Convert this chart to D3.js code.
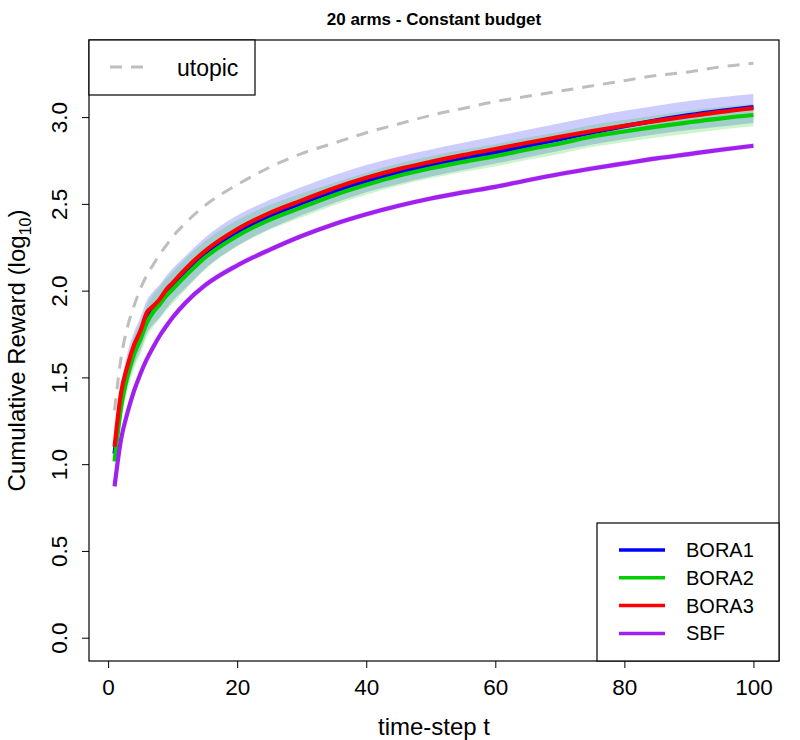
<!DOCTYPE html>
<html>
<head>
<meta charset="utf-8">
<script src="https://cdn.jsdelivr.net/npm/d3@7.9.0/dist/d3.min.js"></script>
<style>
  body { margin: 0; background: #fff; }
  svg text { font-family: "Liberation Sans", Arial, sans-serif; fill: #000; }
</style>
</head>
<body>
<svg id="chart" width="800" height="740"></svg>
<script>
const steps = [1, 2, 3, 4, 5, 6, 7, 8, 9, 10, 12, 15, 20, 25, 30, 35, 40, 45, 50, 55, 60, 65, 70, 75, 80, 85, 90, 95, 100];

const utopic = [1.31, 1.61, 1.79, 1.91, 2.01, 2.09, 2.15, 2.21, 2.26, 2.31, 2.39, 2.49, 2.61, 2.71, 2.79, 2.85, 2.91, 2.96, 3.01, 3.05, 3.09, 3.12, 3.15, 3.18, 3.21, 3.24, 3.26, 3.29, 3.31];

const bora1 = [1.06, 1.37, 1.54, 1.66, 1.745, 1.845, 1.895, 1.935, 1.988, 2.026, 2.105, 2.21, 2.338, 2.43, 2.505, 2.573, 2.632, 2.68, 2.722, 2.76, 2.797, 2.835, 2.873, 2.912, 2.948, 2.981, 3.011, 3.036, 3.058];
const bora1Lo = [1.00, 1.29, 1.45, 1.57, 1.655, 1.755, 1.805, 1.845, 1.895, 1.94, 2.015, 2.125, 2.258, 2.355, 2.435, 2.505, 2.567, 2.615, 2.657, 2.695, 2.732, 2.769, 2.806, 2.842, 2.873, 2.901, 2.926, 2.946, 2.966];
const bora1Hi = [1.12, 1.45, 1.64, 1.76, 1.845, 1.945, 1.995, 2.035, 2.085, 2.128, 2.2, 2.305, 2.433, 2.522, 2.597, 2.665, 2.724, 2.772, 2.814, 2.852, 2.889, 2.927, 2.965, 3.002, 3.036, 3.066, 3.093, 3.114, 3.133];

const bora2 = [1.016, 1.324, 1.507, 1.632, 1.719, 1.815, 1.877, 1.921, 1.97, 2.008, 2.085, 2.19, 2.315, 2.408, 2.48, 2.55, 2.61, 2.662, 2.705, 2.742, 2.775, 2.813, 2.848, 2.888, 2.917, 2.945, 2.97, 2.993, 3.012];
const bora2Lo = [0.966, 1.254, 1.422, 1.547, 1.634, 1.73, 1.792, 1.836, 1.885, 1.925, 2.005, 2.12, 2.255, 2.35, 2.422, 2.492, 2.552, 2.604, 2.647, 2.684, 2.716, 2.754, 2.788, 2.827, 2.855, 2.882, 2.906, 2.929, 2.947];
const bora2Hi = [1.066, 1.404, 1.607, 1.732, 1.819, 1.915, 1.977, 2.021, 2.07, 2.108, 2.185, 2.285, 2.405, 2.493, 2.56, 2.622, 2.68, 2.732, 2.775, 2.812, 2.844, 2.882, 2.916, 2.955, 2.983, 3.011, 3.036, 3.058, 3.076];

const bora3 = [1.10, 1.41, 1.565, 1.684, 1.767, 1.873, 1.911, 1.95, 2.005, 2.045, 2.125, 2.228, 2.354, 2.447, 2.52, 2.59, 2.65, 2.70, 2.742, 2.781, 2.816, 2.852, 2.887, 2.92, 2.95, 2.978, 3.005, 3.03, 3.051];

const sbf = [0.872, 1.141, 1.296, 1.42, 1.52, 1.605, 1.675, 1.74, 1.795, 1.845, 1.93, 2.03, 2.145, 2.235, 2.315, 2.383, 2.44, 2.489, 2.531, 2.566, 2.598, 2.636, 2.672, 2.704, 2.733, 2.762, 2.787, 2.812, 2.835];
const sbfLo = [0.85, 1.12, 1.275, 1.40, 1.50, 1.585, 1.655, 1.72, 1.777, 1.827, 1.912, 2.012, 2.128, 2.219, 2.3, 2.368, 2.425, 2.474, 2.516, 2.551, 2.583, 2.621, 2.657, 2.689, 2.718, 2.747, 2.772, 2.797, 2.82];
const sbfHi = [0.894, 1.162, 1.317, 1.44, 1.54, 1.625, 1.695, 1.76, 1.815, 1.865, 1.948, 2.048, 2.162, 2.251, 2.33, 2.398, 2.455, 2.504, 2.546, 2.581, 2.613, 2.651, 2.687, 2.719, 2.748, 2.777, 2.802, 2.827, 2.85];

const xTicks = [0, 20, 40, 60, 80, 100];
const yTicks = [0, 0.5, 1, 1.5, 2, 2.5, 3];

const svg = d3.select('#chart');
const plotL = 89, plotR = 779, plotT = 40, plotB = 661;

let x = d3.scaleLinear().domain([-2.96, 103.96]).range([plotL, plotR]);
let y = d3.scaleLinear().domain([0, 3]).range([637.7, 117.1]);

// bands first (semi transparent, like R's polygon with alpha)
const bands = [
  { lo: bora1Lo, hi: bora1Hi, color: 'rgba(0,0,255,0.2)' },
  { lo: bora2Lo, hi: bora2Hi, color: 'rgba(0,205,0,0.2)' },
  { lo: sbfLo, hi: sbfHi, color: 'rgba(160,32,240,0.2)' },
];
let area = d3.area()
  .x(d => x(d.t))
  .y0(d => y(d.lo))
  .y1(d => y(d.hi))
  .curve(d3.curveMonotoneX);

bands.forEach(b => {
  svg.append('path')
    .attr('d', area(steps.map((t, i) => ({ t: t, lo: b.lo[i], hi: b.hi[i] }))))
    .attr('fill', b.color);
});

let line = d3.line()
  .x(d => x(d.t))
  .y(d => y(d.v))
  .curve(d3.curveMonotoneX);

const series = [
  { label: 'BORA1', values: bora1, color: '#0000ff' },
  { label: 'BORA2', values: bora2, color: '#00cd00' },
  { label: 'BORA3', values: bora3, color: '#ff0000' },
  { label: 'SBF', values: sbf, color: '#a020f0' },
];

series.forEach(s => {
  svg.append('path')
    .attr('d', line(steps.map((t, i) => ({ t: t, v: s.values[i] }))))
    .attr('fill', 'none')
    .attr('stroke', s.color)
    .attr('stroke-width', 4.2);
});

svg.append('path')
  .attr('d', line(steps.map((t, i) => ({ t: t, v: utopic[i] }))))
  .attr('fill', 'none')
  .attr('stroke', '#bebebe')
  .attr('stroke-width', 3)
  .attr('stroke-dasharray', '12,9');

// axes
let xAxis = d3.axisBottom(x).tickValues(xTicks).tickSize(7).tickPadding(8).tickFormat(d3.format('d'));
let gx = svg.append('g').attr('transform', `translate(0,${plotB})`).call(xAxis);
gx.select('.domain').remove();
gx.selectAll('text').attr('font-size', 22.5).attr('dy', '0.85em');

let yAxis = d3.axisLeft(y).tickValues(yTicks).tickSize(7).tickFormat(d3.format('.1f'));
let gy = svg.append('g').attr('transform', `translate(${plotL},0)`).call(yAxis);
gy.select('.domain').remove();
gy.selectAll('text')
  .attr('font-size', 22.5)
  .attr('x', null).attr('dy', null)
  .attr('text-anchor', 'middle')
  .attr('transform', 'translate(-22,0) rotate(-90)');
gy.selectAll('.tick line').attr('stroke', '#000');
gx.selectAll('.tick line').attr('stroke', '#000');

// plot box
svg.append('rect')
  .attr('x', plotL).attr('y', plotT)
  .attr('width', plotR - plotL).attr('height', plotB - plotT)
  .attr('fill', 'none').attr('stroke', '#000').attr('stroke-width', 1.2);

// titles
svg.append('text')
  .attr('x', (plotL + plotR) / 2).attr('y', 25)
  .attr('text-anchor', 'middle')
  .attr('font-size', 17).attr('font-weight', 'bold')
  .text('20 arms - Constant budget');

svg.append('text')
  .attr('x', (plotL + plotR) / 2).attr('y', 735)
  .attr('text-anchor', 'middle')
  .attr('font-size', 24)
  .text('time-step t');

let yl = svg.append('text')
  .attr('transform', `translate(25,${(plotT + plotB) / 2}) rotate(-90)`)
  .attr('text-anchor', 'middle')
  .attr('font-size', 24);
yl.append('tspan').text('Cumulative Reward (log');
yl.append('tspan').attr('font-size', 16).attr('dy', 6).text('10');
yl.append('tspan').attr('dy', -6).text(')');

// top-left legend
svg.append('rect')
  .attr('x', plotL).attr('y', plotT).attr('width', 166).attr('height', 55)
  .attr('fill', '#fff').attr('stroke', '#000').attr('stroke-width', 1.2);
svg.append('line')
  .attr('x1', 110).attr('x2', 152).attr('y1', 67).attr('y2', 67)
  .attr('stroke', '#bebebe').attr('stroke-width', 3).attr('stroke-dasharray', '12,9');
svg.append('text').attr('x', 177).attr('y', 76).attr('font-size', 23).text('utopic');

// bottom-right legend
svg.append('rect')
  .attr('x', 597).attr('y', 523).attr('width', plotR - 597).attr('height', plotB - 523)
  .attr('fill', '#fff').attr('stroke', '#000').attr('stroke-width', 1.2);
let legend = svg.append('g');
series.forEach((s, idx) => {
  let ly = 550 + idx * 27.8;
  legend.append('line')
    .attr('x1', 619).attr('x2', 665).attr('y1', ly).attr('y2', ly)
    .attr('stroke', s.color).attr('stroke-width', 3.5);
  legend.append('text')
    .attr('x', 686).attr('y', ly + 7).attr('font-size', 20)
    .text(s.label);
});
</script>
</body>
</html>
